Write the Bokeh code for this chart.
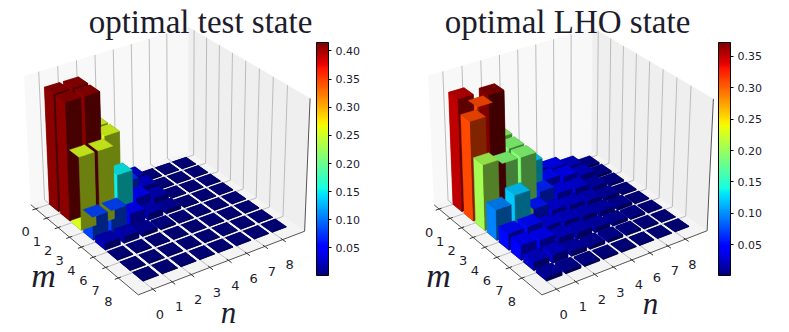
import numpy as np
from bokeh.plotting import figure
from bokeh.models import ColumnDataSource, LinearColorMapper, ColorBar, FixedTicker, PrintfTickFormatter
from bokeh.core.properties import value
from bokeh.embed import file_html
from bokeh.resources import INLINE

m_labels = ["0", "1", "2", "3", "4", "6", "7", "8"]
n_labels = ["0", "1", "2", "3", "4", "6", "7", "8"]
title_test = "optimal test state"
title_lho = "optimal LHO state"

test_values = [
    [.41, .41, .255, .07, .03, .002, .001, .001],
    [.41, .41, .255, .07, .03, .002, .001, .001],
    [.255, .255, .15, .045, .022, .002, .001, .001],
    [.08, .08, .045, .022, .012, .001, .001, .001],
    [.022, .022, .012, .005, .002, .001, .001, .001],
    [.002, .002, .001, .001, .001, .001, .001, .001],
    [.001, .001, .001, .001, .001, .001, .001, .001],
    [.001, .001, .001, .001, .001, .001, .001, .001],
]
lho_values = [
    [.352, .31, .195, .12, .05, .04, .025, .006],
    [.31, .372, .19, .125, .05, .04, .025, .006],
    [.205, .19, .19, .06, .035, .03, .015, .005],
    [.095, .12, .055, .03, .025, .02, .012, .003],
    [.05, .05, .03, .025, .02, .015, .009, .002],
    [.045, .04, .025, .02, .015, .01, .006, .002],
    [.025, .025, .015, .01, .008, .005, .003, .001],
    [.012, .008, .005, .003, .002, .001, .001, .001],
]
test_cbar_ticks = [.05, .10, .15, .20, .25, .30, .35, .40]
lho_cbar_ticks = [.05, .10, .15, .20, .25, .30, .35]


def jet(t):
    t = np.clip(t, 0, 1)
    r = np.interp(t, [0, .35, .66, .89, 1], [0, 0, 1, 1, .5])
    g = np.interp(t, [0, .125, .375, .64, .91, 1], [0, 0, 1, 1, 0, 0])
    b = np.interp(t, [0, .11, .34, .65, 1], [.5, 1, 1, 0, 0])
    return np.array([r, g, b])


def hexcol(rgb):
    return "#%02x%02x%02x" % tuple(int(round(255 * c)) for c in rgb)


PALETTE = [hexcol(jet(i / 255)) for i in range(256)]

# projection calibration: box corners (u, v, w) on the page
BOX = [(0, 0, 0), (1, 0, 0), (1, 1, 0), (0, 1, 0), (0, 0, 1), (0, 1, 1), (1, 1, 1)]


def camera(px):
    A = []
    for (u, v, w), (x, y) in zip(BOX, px):
        A.append([u, v, w, 1, 0, 0, 0, 0, -x * u, -x * v, -x * w, -x])
        A.append([0, 0, 0, 0, u, v, w, 1, -y * u, -y * v, -y * w, -y])
    return np.linalg.svd(np.array(A, float))[2][-1].reshape(3, 4)


def project(P, u, v, w):
    q = P @ np.array([u, v, w, 1.0])
    return q[0] / q[2], q[1] / q[2]


OFF_M, OFF_N, SPAN, WIDTH = 0.45, 0.75, 9.0, 0.8
SHADE = {"bottom": .625, "top": .875, "n-": 1.0, "n+": .5, "m-": 1.0, "m+": .5}
INK = "#1c1c2c"


def panel(p, matrix, zlim, vmin, vmax, corners, title, title_x, ticks, cbar_x, mlab, nlab, m_pos, n_pos):
    P = camera(corners)
    pr = lambda u, v, w: project(P, u, v, w)

    # panes
    panes = [([(0, 0, 0), (0, 1, 0), (0, 1, 1), (0, 0, 1)], "#f8f8f8"),
             ([(0, 1, 0), (1, 1, 0), (1, 1, 1), (0, 1, 1)], "#efefef"),
             ([(0, 0, 0), (1, 0, 0), (1, 1, 0), (0, 1, 0)], "#f4f4f4")]
    xs, ys, cs = [], [], []
    for pts, c in panes:
        q = [pr(*a) for a in pts]
        xs.append([a[0] for a in q]); ys.append([a[1] for a in q]); cs.append(c)
    p.patches(xs, ys, fill_color=cs, line_color=cs, line_width=0.5)

    um = [(i + OFF_M) / SPAN for i in range(8)]
    vn = [(i + OFF_N) / SPAN for i in range(8)]

    # grid
    gx, gy = [], []
    for v in vn:
        q = [pr(1, v, 0), pr(0, v, 0), pr(0, v, 1)]
        gx.append([a[0] for a in q]); gy.append([a[1] for a in q])
    for u in um:
        q = [pr(u, 0, 0), pr(u, 1, 0), pr(u, 1, 1)]
        gx.append([a[0] for a in q]); gy.append([a[1] for a in q])
    p.multi_line(gx, gy, line_color="#bcbcbc", line_width=1)

    # axis lines
    q = [pr(*a) for a in [(0, 0, 0), (1, 0, 0), (1, 1, 0), (1, 1, 1)]]
    p.line([a[0] for a in q], [a[1] for a in q], line_color="#555555", line_width=1)

    # tick marks
    tx, ty = [], []
    for u in um:
        q = [pr(u, -.02, 0), pr(u, .015, 0)]
        tx.append([a[0] for a in q]); ty.append([a[1] for a in q])
    for v in vn:
        q = [pr(1.025, v, 0), pr(.985, v, 0)]
        tx.append([a[0] for a in q]); ty.append([a[1] for a in q])
    p.multi_line(tx, ty, line_color="#333333", line_width=1)

    # bars, painted far to near by mean face depth
    faces = []
    for i in range(8):
        for j in range(8):
            val = matrix[i][j]
            rgb = jet((val - vmin) / (vmax - vmin))
            u0, u1 = (i + OFF_M) / SPAN, (i + WIDTH + OFF_M) / SPAN
            v0, v1 = (j + OFF_N) / SPAN, (j + WIDTH + OFF_N) / SPAN
            w1 = val / zlim
            for name, pts in [
                ("bottom", [(u0, v0, 0), (u1, v0, 0), (u1, v1, 0), (u0, v1, 0)]),
                ("top", [(u0, v0, w1), (u1, v0, w1), (u1, v1, w1), (u0, v1, w1)]),
                ("n-", [(u0, v0, 0), (u1, v0, 0), (u1, v0, w1), (u0, v0, w1)]),
                ("n+", [(u0, v1, 0), (u1, v1, 0), (u1, v1, w1), (u0, v1, w1)]),
                ("m-", [(u0, v0, 0), (u0, v1, 0), (u0, v1, w1), (u0, v0, w1)]),
                ("m+", [(u1, v0, 0), (u1, v1, 0), (u1, v1, w1), (u1, v0, w1)]),
            ]:
                a = np.array(pts)
                depth = np.mean(-.75 * a[:, 0] + .433 * a[:, 1] - .43 * a[:, 2])
                q = [pr(*t) for t in pts]
                faces.append((depth, [t[0] for t in q], [t[1] for t in q], hexcol(rgb * SHADE[name])))
    faces.sort(key=lambda f: -f[0])
    src = ColumnDataSource(dict(x=[f[1] for f in faces], y=[f[2] for f in faces], c=[f[3] for f in faces]))
    p.patches("x", "y", source=src, fill_color="c", line_color="c", line_width=0.4)

    # tick labels
    q = [pr(u, 0, 0) for u in um]
    p.text([a[0] for a in q], [a[1] for a in q], text=mlab, x_offset=-10, y_offset=23,
           text_font=value("DejaVu Sans"), text_font_size="13px", text_color=INK,
           text_align="center", text_baseline="middle")
    q = [pr(1, v, 0) for v in vn]
    p.text([a[0] for a in q], [a[1] for a in q], text=nlab, x_offset=7, y_offset=25,
           text_font=value("DejaVu Sans"), text_font_size="13px", text_color=INK,
           text_align="center", text_baseline="middle")

    # axis names and title
    p.text([m_pos[0]], [m_pos[1]], text=["m"], text_font=value("Liberation Serif"), text_font_style="italic",
           text_font_size="34px", text_color=INK, text_align="center", text_baseline="middle")
    p.text([n_pos[0]], [n_pos[1]], text=["n"], text_font=value("Liberation Serif"), text_font_style="italic",
           text_font_size="31px", text_color=INK, text_align="center", text_baseline="middle")
    p.text([title_x], [21], text=[title], text_font=value("Liberation Serif"), text_font_size="33px",
           text_color=INK, text_align="center", text_baseline="alphabetic")

    mapper = LinearColorMapper(palette=PALETTE, low=vmin, high=vmax)
    cb = ColorBar(color_mapper=mapper, ticker=FixedTicker(ticks=ticks), formatter=PrintfTickFormatter(format="%.2f"),
                  location=(cbar_x, 57), width=12, height=233, padding=0, margin=0,
                  bar_line_color="#000000", bar_line_width=1, major_tick_in=0, major_tick_out=3,
                  major_tick_line_color="#000000", minor_tick_line_color=None, label_standoff=4,
                  major_label_text_font="DejaVu Sans", major_label_text_font_size="11px",
                  major_label_text_color=INK, background_fill_alpha=0, border_line_color=None)
    p.add_layout(cb, "center")


p = figure(width=789, height=332, x_range=(0, 789), y_range=(332, 0), output_backend="svg",
           toolbar_location=None, min_border=0)
p.axis.visible = False
p.grid.visible = False
p.outline_line_color = None

panel(p, test_values, .45, .001, .415,
      [(30, 203), (138, 295), (304, 230), (188, 152), (24, 76), (188, 26), (309.5, 98)],
      title_test, 200, test_cbar_ticks, 316, m_labels, n_labels, (43, 275), (228, 312))
panel(p, lho_values, .404, .001, .372,
      [(433, 203), (542, 295), (706, 230), (592, 152), (428, 76), (592, 27), (713, 98)],
      title_lho, 567, lho_cbar_ticks, 718, m_labels, n_labels, (438, 275), (650, 303))

open("out.html", "w").write(file_html(p, INLINE))
